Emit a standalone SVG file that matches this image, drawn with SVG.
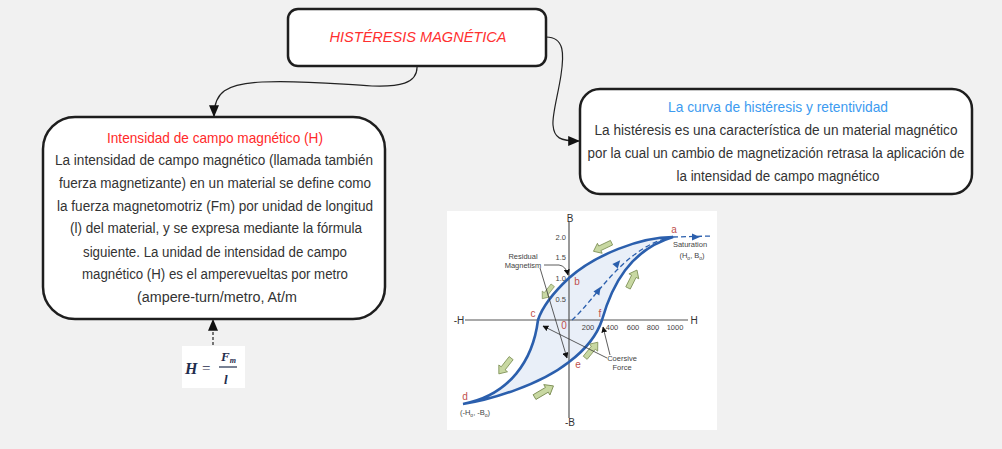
<svg xmlns="http://www.w3.org/2000/svg" width="1002" height="449" viewBox="0 0 1002 449">
<defs>
<style>
.box{fill:#fff;stroke:#1e1e1e;stroke-width:2.5}
.conn{fill:none;stroke:#222;stroke-width:1.2}
.body{font-family:"Liberation Sans",Arial,sans-serif;font-size:14px;fill:#333;text-anchor:middle}
.ttl{font-family:"Liberation Sans",Arial,sans-serif;font-size:15px;text-anchor:middle}
.ax{font-family:"Liberation Sans",Arial,sans-serif;font-size:7.5px;fill:#444;text-anchor:middle}
.axl{font-family:"Liberation Sans",Arial,sans-serif;font-size:10px;fill:#333;text-anchor:middle}
.pt{font-family:"Liberation Sans",Arial,sans-serif;font-size:10px;fill:#c0504d;text-anchor:middle}
.ann{fill:none;stroke:#333;stroke-width:0.8}
.loop{fill:none;stroke:#2b5fad;stroke-width:2.6}
.garrow{fill:#c8d8a2;stroke:#7f9158;stroke-width:0.8}
</style>
<marker id="ah" viewBox="0 0 10 10" refX="9" refY="5" markerWidth="12" markerHeight="10" markerUnits="userSpaceOnUse" orient="auto" preserveAspectRatio="none">
<path d="M0,0 L10,5 L0,10 z" fill="#111"/>
</marker>
<marker id="sa" viewBox="0 0 10 10" refX="9" refY="5" markerWidth="6" markerHeight="6" markerUnits="userSpaceOnUse" orient="auto">
<path d="M0,0 L10,5 L0,10 z" fill="#111"/>
</marker>
<polygon id="ga" class="garrow" points="-10,-2.5 3,-2.5 3,-5.5 10,0 3,5.5 3,2.5 -10,2.5"/>
</defs>
<rect width="1002" height="449" fill="#f1f1f1"/>

<g id="connectors">
<path class="conn" d="M417,66 C418,84 398,87 372,86 C335,84 300,80 262,82 C226,84 214,92 214,116" marker-end="url(#ah)"/>
<path class="conn" d="M546,37 C565,37 564,55 561,75 C558,95 552,115 553,125 C554,138 560,141 579,141" marker-end="url(#ah)"/>
<path class="conn" d="M213,345 L213,320" stroke-dasharray="3,2" marker-end="url(#ah)"/>
</g>

<g id="title">
<rect class="box" x="288" y="9" width="258" height="57" rx="10"/>
<text class="ttl" x="418" y="42" font-style="italic" font-size="16" fill="#ff3030" textLength="177" lengthAdjust="spacingAndGlyphs">HISTÉRESIS MAGNÉTICA</text>
</g>

<g id="intensidad">
<rect class="box" x="43" y="117" width="342" height="202" rx="32"/>
<text class="ttl" x="215" y="143" fill="#ff2a2a" textLength="216" lengthAdjust="spacingAndGlyphs">Intensidad de campo magnético (H)</text>
<text class="body" x="214" y="165" textLength="318" lengthAdjust="spacingAndGlyphs">La intensidad de campo magnético (llamada también</text>
<text class="body" x="215" y="188" textLength="312" lengthAdjust="spacingAndGlyphs">fuerza magnetizante) en un material se define como</text>
<text class="body" x="215" y="211" textLength="316" lengthAdjust="spacingAndGlyphs">la fuerza magnetomotriz (Fm) por unidad de longitud</text>
<text class="body" x="216" y="233" textLength="292" lengthAdjust="spacingAndGlyphs">(l) del material, y se expresa mediante la fórmula</text>
<text class="body" x="215" y="257" textLength="264" lengthAdjust="spacingAndGlyphs">siguiente. La unidad de intensidad de campo</text>
<text class="body" x="215" y="279" textLength="266" lengthAdjust="spacingAndGlyphs">magnético (H) es el amperevueltas por metro</text>
<text class="body" x="217" y="302" textLength="160" lengthAdjust="spacingAndGlyphs">(ampere-turn/metro, At/m</text>
</g>

<g id="curva">
<rect class="box" x="580" y="89" width="392" height="105" rx="20"/>
<text class="ttl" x="778" y="112" fill="#3d9bf0" textLength="220" lengthAdjust="spacingAndGlyphs">La curva de histéresis y retentividad</text>
<text class="body" x="776" y="135" textLength="363" lengthAdjust="spacingAndGlyphs">La histéresis es una característica de un material magnético</text>
<text class="body" x="776" y="158" textLength="377" lengthAdjust="spacingAndGlyphs">por la cual un cambio de magnetización retrasa la aplicación de</text>
<text class="body" x="778" y="181" textLength="203" lengthAdjust="spacingAndGlyphs">la intensidad de campo magnético</text>
</g>

<g id="formula">
<rect x="182" y="346" width="63" height="42" fill="#fff"/>
<g font-family="'Liberation Serif','Times New Roman',serif" font-weight="bold" font-style="italic" fill="#1f2d4d">
<text x="185" y="374" font-size="16">H</text>
<text x="202" y="373" font-size="15" font-style="normal" font-weight="normal">=</text>
<text x="221" y="361" font-size="13">F<tspan font-size="8" dy="2">m</tspan></text>
<text x="224" y="384" font-size="13">l</text>
</g>
<line x1="219" y1="367" x2="237" y2="367" stroke="#1f2d4d" stroke-width="1.2"/>
</g>

<g id="hysteresis">
<rect x="447" y="211" width="270" height="219" fill="#fff"/>
<path d="M673,237 C640,237 595,255 569,278 C555,291 543,305 538,320 C533,360 510,395 463,404 C490,400 540,385 569,362 C585,350 597,335 602,320 C612,285 630,250 673,237 Z" fill="#e9eff8"/>
<line x1="569" y1="222" x2="569" y2="418" stroke="#555" stroke-width="1.2"/>
<line x1="465" y1="320" x2="688" y2="320" stroke="#555" stroke-width="1.2"/>
<text class="axl" x="570" y="222">B</text>
<text class="axl" x="570" y="426">-B</text>
<text class="axl" x="459" y="324">-H</text>
<text class="axl" x="694" y="324">H</text>
<g class="ax">
<text x="566" y="240" text-anchor="end">2.0</text>
<text x="566" y="260" text-anchor="end">1.5</text>
<text x="566" y="281" text-anchor="end">1.0</text>
<text x="566" y="302" text-anchor="end">0.5</text>
</g>
<text class="ax" x="588" y="330">200</text>
<text class="ax" x="612" y="330">400</text>
<text class="ax" x="633" y="330">600</text>
<text class="ax" x="653" y="330">800</text>
<text class="ax" x="675" y="330">1000</text>
<text class="pt" x="564" y="329">0</text>
<path d="M572,320 C595,300 625,245 673,237" fill="none" stroke="#2b5fad" stroke-width="1.3" stroke-dasharray="5,3"/>
<path d="M673,237 L712,236" fill="none" stroke="#2b5fad" stroke-width="1.3" stroke-dasharray="5,3"/>
<polygon points="700,237 692,233.5 692,240.5" fill="#2b5fad"/>
<polygon points="0,-5 3.5,3 -3.5,3" fill="#2b5fad" transform="translate(598,291) rotate(33)"/>
<polygon points="0,-5 3.5,3 -3.5,3" fill="#2b5fad" transform="translate(617,264) rotate(40)"/>
<path class="loop" d="M673,237 C640,237 595,255 569,278 C555,291 543,305 538,320 C533,360 510,395 463,404 C490,400 540,385 569,362 C585,350 597,335 602,320 C612,285 630,250 673,237 Z"/>
<use href="#ga" transform="translate(602.5,247) rotate(154.5)"/>
<use href="#ga" transform="translate(632.5,279) rotate(-63.4)"/>
<use href="#ga" transform="translate(547.5,292) rotate(128) scale(0.85)"/>
<use href="#ga" transform="translate(505,366) rotate(128)"/>
<use href="#ga" transform="translate(544,391.5) rotate(-30.6) scale(1.1)"/>
<use href="#ga" transform="translate(591.5,350) rotate(-51)"/>
<text class="pt" x="674" y="233">a</text>
<text class="pt" x="577" y="285">b</text>
<text class="pt" x="533" y="317">c</text>
<text class="pt" x="465" y="400">d</text>
<text class="pt" x="578" y="368">e</text>
<text class="pt" x="600" y="317">f</text>
<text class="ax" x="690" y="247">Saturation</text>
<text class="ax" x="692" y="258">(H<tspan font-size="5" dy="1.5">o</tspan><tspan dy="-1.5">, B</tspan><tspan font-size="5" dy="1.5">o</tspan><tspan dy="-1.5">)</tspan></text>
<text class="ax" x="475" y="415">(-H<tspan font-size="5" dy="1.5">o</tspan><tspan dy="-1.5">, -B</tspan><tspan font-size="5" dy="1.5">o</tspan><tspan dy="-1.5">)</tspan></text>
<text class="ax" x="523" y="259">Residual</text>
<text class="ax" x="523" y="268">Magnetism</text>
<text class="ax" x="622" y="361">Coersive</text>
<text class="ax" x="622" y="370">Force</text>
<path class="ann" d="M544,265 L559,265 Q566,266 568,275" marker-end="url(#sa)"/>
<path class="ann" d="M540,268 L567,358" marker-end="url(#sa)"/>
<path class="ann" d="M610,355 L603,327" marker-end="url(#sa)"/>
<path class="ann" d="M607,358 L543,326" marker-end="url(#sa)"/>
</g>
</svg>
